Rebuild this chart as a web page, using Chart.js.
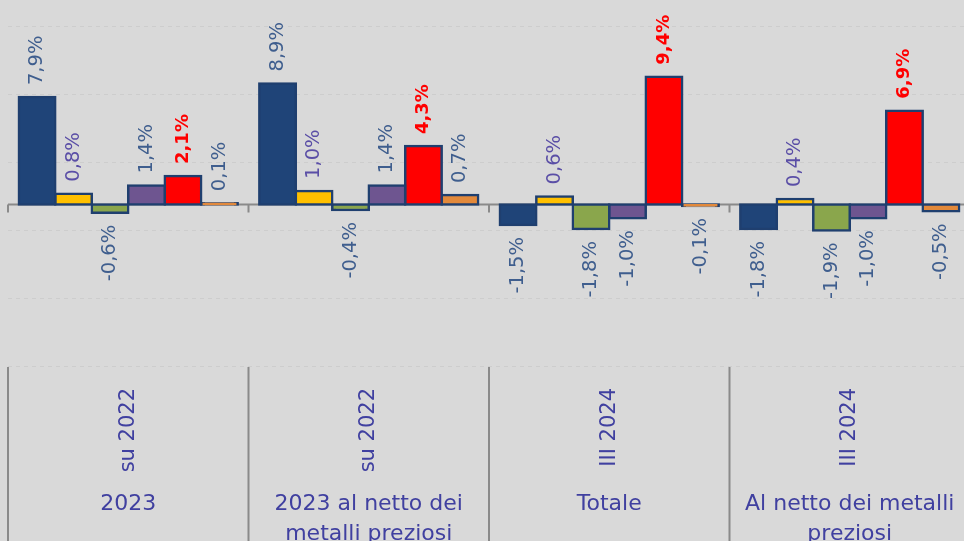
<!DOCTYPE html>
<html><head><meta charset="utf-8">
<script src="https://cdn.jsdelivr.net/npm/chart.js@4/dist/chart.umd.min.js"></script>
<style>
html,body{margin:0;padding:0;background:#d9d9d9;overflow:hidden;width:964px;height:541px;}
#wrap{position:absolute;left:0;top:0;width:970px;height:560px;}
canvas{display:block;}
</style></head><body>
<div id="wrap"><canvas id="c" width="970" height="560"></canvas></div>
<script>
// ---- data ----
const innerLabels = ['su 2022', 'su 2022', 'III 2024', 'III 2024'];
const outerLabels = [['2023'], ['2023 al netto dei', 'metalli preziosi'], ['Totale'], ['Al netto dei metalli', 'preziosi']];
const serie1 = [7.9, 8.9, -1.5, -1.8];
const serie2 = [0.8, 1.0, 0.6, 0.4];
const serie3 = [-0.6, -0.4, -1.8, -1.9];
const serie4 = [1.4, 1.4, -1.0, -1.0];
const serie5 = [2.1, 4.3, 9.4, 6.9];
const serie6 = [0.1, 0.7, -0.1, -0.5];
const yGridValues = [-11.87, -6.9, -1.9, 3.1, 8.1, 13.1];

// ---- styles ----
const FONT = 'DejaVu Sans';
const fills = ['#1f4478', '#ffc000', '#8aa64c', '#6e5590', '#ff0000', '#e2893b'];
const labelColors = ['#3f5e8e', '#5a4ea6', '#3f5e8e', '#3f5e8e', '#ff0000', '#3f5e8e'];
const seriesList = [serie1, serie2, serie3, serie4, serie5, serie6];

const fmt = v => v.toFixed(1).replace('.', ',') + '%';

const decorPlugin = {
  id: 'decor',
  beforeDatasetsDraw(chart) {
    const ctx = chart.ctx, x = chart.scales.x, y = chart.scales.y;
    const y0 = y.getPixelForValue(0);
    const n = chart.data.labels.length;
    const w = (x.right - x.left) / n;
    ctx.save();
    ctx.strokeStyle = '#8a8a8a';
    ctx.lineWidth = 2;
    ctx.beginPath();
    ctx.moveTo(x.left, y0); ctx.lineTo(x.right, y0);
    for (let k = 0; k <= n; k++) {
      const px = x.left + k * w;
      ctx.moveTo(px, y0); ctx.lineTo(px, y0 + 8);
    }
    ctx.stroke();
    ctx.restore();
  },
  afterDraw(chart) {
    const ctx = chart.ctx, x = chart.scales.x;
    const n = chart.data.labels.length;
    const w = (x.right - x.left) / n;
    ctx.save();
    ctx.strokeStyle = '#8a8a8a';
    ctx.lineWidth = 2;
    ctx.beginPath();
    for (let k = 0; k <= n; k++) {
      const px = x.left + k * w;
      ctx.moveTo(px, chart.chartArea.bottom + 1); ctx.lineTo(px, chart.height);
    }
    ctx.stroke();
    ctx.restore();
  },
  afterDatasetsDraw(chart) {
    const ctx = chart.ctx;
    chart.data.datasets.forEach((ds, i) => {
      const meta = chart.getDatasetMeta(i);
      meta.data.forEach((bar, j) => {
        const v = ds.data[j];
        const gap = 12;
        ctx.save();
        ctx.fillStyle = labelColors[i];
        ctx.font = (i === 4 ? 'bold 18px ' : '19.5px ') + '"' + FONT + '"';
        ctx.textBaseline = 'middle';
        if (v >= 0) {
          ctx.translate(bar.x, bar.y - gap);
          ctx.textAlign = 'left';
        } else {
          ctx.translate(bar.x, bar.y + gap);
          ctx.textAlign = 'right';
        }
        ctx.rotate(-Math.PI / 2);
        ctx.fillText(fmt(v), 0, 0);
        ctx.restore();
      });
    });
  }
};

new Chart(document.getElementById('c'), {
  type: 'bar',
  data: {
    labels: innerLabels,
    datasets: seriesList.map((s, i) => ({
      label: 'Serie ' + (i + 1),
      data: s,
      backgroundColor: fills[i],
      borderColor: '#1f3f6f',
      borderWidth: 2.5,
      borderSkipped: false,
      inflateAmount: 1.25,
      categoryPercentage: 0.91,
      barPercentage: 1.0
    }))
  },
  options: {
    responsive: false,
    animation: false,
    layout: { padding: { left: 8, right: 0, top: 0, bottom: 0 } },
    plugins: { legend: { display: false }, tooltip: { enabled: false } },
    scales: {
      x: {
        position: 'bottom', weight: 0, offset: true,
        grid: { display: false }, border: { display: false },
        ticks: { autoSkip: false, minRotation: 90, maxRotation: 90, padding: 14,
                 color: '#4040a0', font: { family: FONT, size: 21 } },
        afterFit: s => { s.height = 110; }
      },
      x2: {
        type: 'category', labels: outerLabels, position: 'bottom', weight: 1, offset: true,
        grid: { display: false }, border: { display: false },
        ticks: { autoSkip: false, minRotation: 0, maxRotation: 0, padding: 5,
                 color: '#4040a0', font: { family: FONT, size: 22, lineHeight: 1.36 } },
        afterFit: s => { s.height = 84; }
      },
      y: {
        min: -11.87, max: 15.04,
        ticks: { display: false },
        border: { display: false, dash: [4, 4] },
        grid: { color: 'rgba(0,0,0,0.05)', lineWidth: 1, drawTicks: false },
        afterBuildTicks: s => { s.ticks = yGridValues.map(v => ({ value: v })); },
        afterFit: s => { s.width = 0; }
      }
    }
  },
  plugins: [decorPlugin]
});
</script>
</body></html>
